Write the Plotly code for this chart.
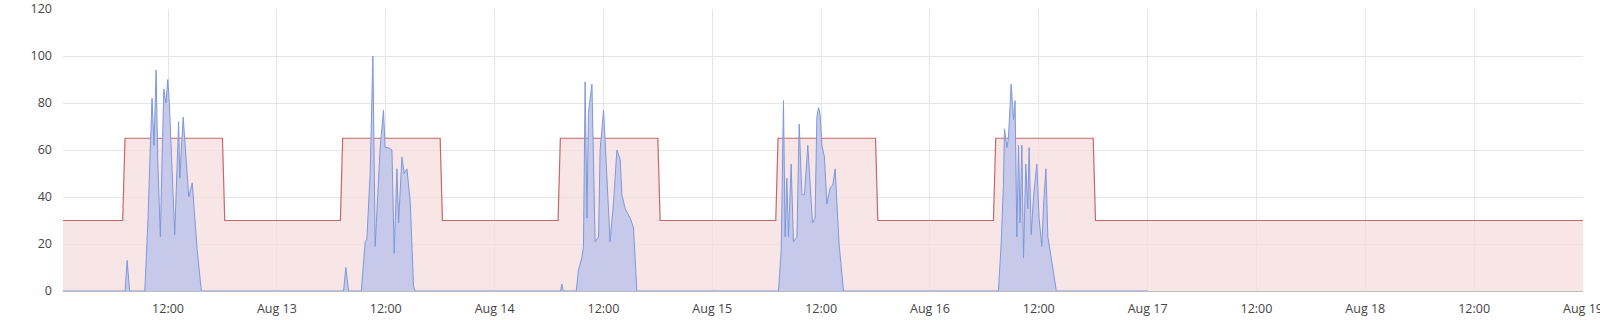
import plotly.graph_objects as go

# ---- data ----
x_range = ["2024-08-12 00:25", "2024-08-19 00:00"]

threshold_times = [
    "2024-08-12 00:25",
    "2024-08-12 07:00", "2024-08-12 07:15", "2024-08-12 18:00", "2024-08-12 18:15",
    "2024-08-13 07:00", "2024-08-13 07:15", "2024-08-13 18:00", "2024-08-13 18:15",
    "2024-08-14 07:00", "2024-08-14 07:15", "2024-08-14 18:00", "2024-08-14 18:15",
    "2024-08-15 07:00", "2024-08-15 07:15", "2024-08-15 18:00", "2024-08-15 18:15",
    "2024-08-16 07:00", "2024-08-16 07:15", "2024-08-16 18:00", "2024-08-16 18:15",
    "2024-08-19 00:00",
]
threshold_values = [30] + [30, 65, 65, 30] * 5 + [30]

day1_times = ["07:16", "07:29", "07:46", "09:26", "09:47", "10:02", "10:14", "10:27", "10:41",
              "10:52", "11:09", "11:22", "11:32", "11:46", "11:58", "12:07", "12:22", "12:44",
              "13:10", "13:18", "13:40", "13:57", "14:17", "14:40", "14:52", "15:12", "15:40"]
day1_values = [0, 13, 0, 0, 30, 60, 82, 62, 94, 55, 23, 60, 86, 80, 90, 82, 60, 24,
               72, 48, 74, 60, 40, 46, 35, 18, 0]

day2_times = ["07:21", "07:36", "07:54", "09:18", "09:44", "09:55", "10:17", "10:35", "10:50",
              "11:23", "11:45", "11:56", "12:18", "12:41", "12:56", "13:14", "13:25", "13:47",
              "14:02", "14:20", "14:42", "15:04", "15:15"]
day2_values = [0, 10, 0, 0, 21, 22, 50, 100, 19, 61, 77, 61, 61, 60, 16, 52, 29, 57,
               50, 52, 38, 2, 0]

day3_times = ["07:16", "07:25", "07:34", "09:00", "09:15", "09:37", "09:48", "09:59", "10:11",
              "10:21", "10:44", "10:54", "11:05", "11:28", "11:38", "12:01", "12:11", "12:34",
              "12:44", "13:07", "13:29", "13:51", "14:02", "14:24", "14:57", "15:19", "15:41"]
day3_values = [0, 3, 0, 0, 9, 14, 19, 89, 31, 76, 88, 48, 21, 23, 60, 77, 63, 34,
               21, 38, 60, 56, 41, 35, 31, 27, 0]

day4_times = ["07:18", "07:36", "07:51", "08:02", "08:13", "08:24", "08:42", "08:57", "09:20",
              "09:35", "09:53", "10:10", "10:32", "10:47", "11:03", "11:20", "11:32", "11:43",
              "11:54", "12:05", "12:22", "12:38", "13:00", "13:17", "13:33", "13:44", "13:59",
              "14:28"]
day4_values = [0, 17, 81, 23, 48, 23, 54, 21, 23, 71, 41, 41, 62, 43, 29, 31, 74, 78,
               75, 62, 57, 37, 44, 45, 52, 38, 20, 0]

day5_times = ["07:33", "07:51", "08:06", "08:13", "08:29", "08:39", "08:57", "09:13", "09:23",
              "09:35", "09:46", "09:56", "10:08", "10:19", "10:34", "10:47", "10:56", "11:10",
              "11:25", "11:47", "12:02", "12:20", "12:31", "12:47", "13:00", "13:15", "13:37",
              "13:56"]
day5_values = [0, 20, 45, 69, 61, 65, 88, 73, 81, 23, 62, 29, 62, 14, 54, 35, 61, 24,
               40, 54, 31, 19, 36, 52, 23, 17, 8, 0]

usage_days = ["2024-08-12", "2024-08-13", "2024-08-14", "2024-08-15", "2024-08-16"]
usage_start = ("2024-08-12 00:25", 0)
usage_end = ("2024-08-17 00:00", 0)

tick_vals = ["2024-08-12 12:00", "2024-08-13 00:00", "2024-08-13 12:00", "2024-08-14 00:00",
             "2024-08-14 12:00", "2024-08-15 00:00", "2024-08-15 12:00", "2024-08-16 00:00",
             "2024-08-16 12:00", "2024-08-17 00:00", "2024-08-17 12:00", "2024-08-18 00:00",
             "2024-08-18 12:00", "2024-08-19 00:00"]
tick_text = ["12:00", "Aug 13", "12:00", "Aug 14", "12:00", "Aug 15", "12:00", "Aug 16",
             "12:00", "Aug 17", "12:00", "Aug 18", "12:00", "Aug 19"]

y_ticks = [0, 20, 40, 60, 80, 100, 120]

# ---- build usage series ----
usage_x = [usage_start[0]]
usage_y = [usage_start[1]]
for day, times, vals in zip(usage_days,
                            [day1_times, day2_times, day3_times, day4_times, day5_times],
                            [day1_values, day2_values, day3_values, day4_values, day5_values]):
    usage_x += [f"{day} {t}" for t in times]
    usage_y += vals
usage_x.append(usage_end[0])
usage_y.append(usage_end[1])

fig = go.Figure()
fig.add_trace(go.Scatter(
    x=threshold_times, y=threshold_values, mode="lines",
    line=dict(color="rgb(196,104,104)", width=1.2),
    fill="tozeroy", fillcolor="rgba(246,222,222,0.75)",
    hoverinfo="skip", showlegend=False,
))
fig.add_trace(go.Scatter(
    x=usage_x, y=usage_y, mode="lines",
    line=dict(color="rgb(125,152,220)", width=1),
    fill="tozeroy", fillcolor="rgb(198,201,233)",
    hoverinfo="skip", showlegend=False,
))

font = dict(family="Open Sans, Segoe UI, sans-serif", size=12.5, color="#444")

fig.update_layout(
    width=1600, height=320,
    margin=dict(l=63, r=17, t=9, b=29, autoexpand=False),
    paper_bgcolor="white", plot_bgcolor="white",
    font=font, showlegend=False,
    xaxis=dict(
        type="date", range=x_range, automargin=False,
        tickmode="array", tickvals=tick_vals, ticktext=tick_text,
        showgrid=True, gridcolor="#e6e6e6", gridwidth=1,
        showline=True, linecolor="#bdbdbd", linewidth=1,
        ticks="", ticklabelstandoff=6, zeroline=False,
        ticklabeloverflow="allow",
        tickfont=font,
    ),
    yaxis=dict(
        range=[0, 120], tickmode="array", tickvals=y_ticks, automargin=False,
        showgrid=True, gridcolor="#e6e6e6", gridwidth=1,
        zeroline=False, showline=False,
        ticks="", ticklabelstandoff=10,
        ticklabeloverflow="allow",
        tickfont=font,
    ),
)

fig.write_html("out.html")
